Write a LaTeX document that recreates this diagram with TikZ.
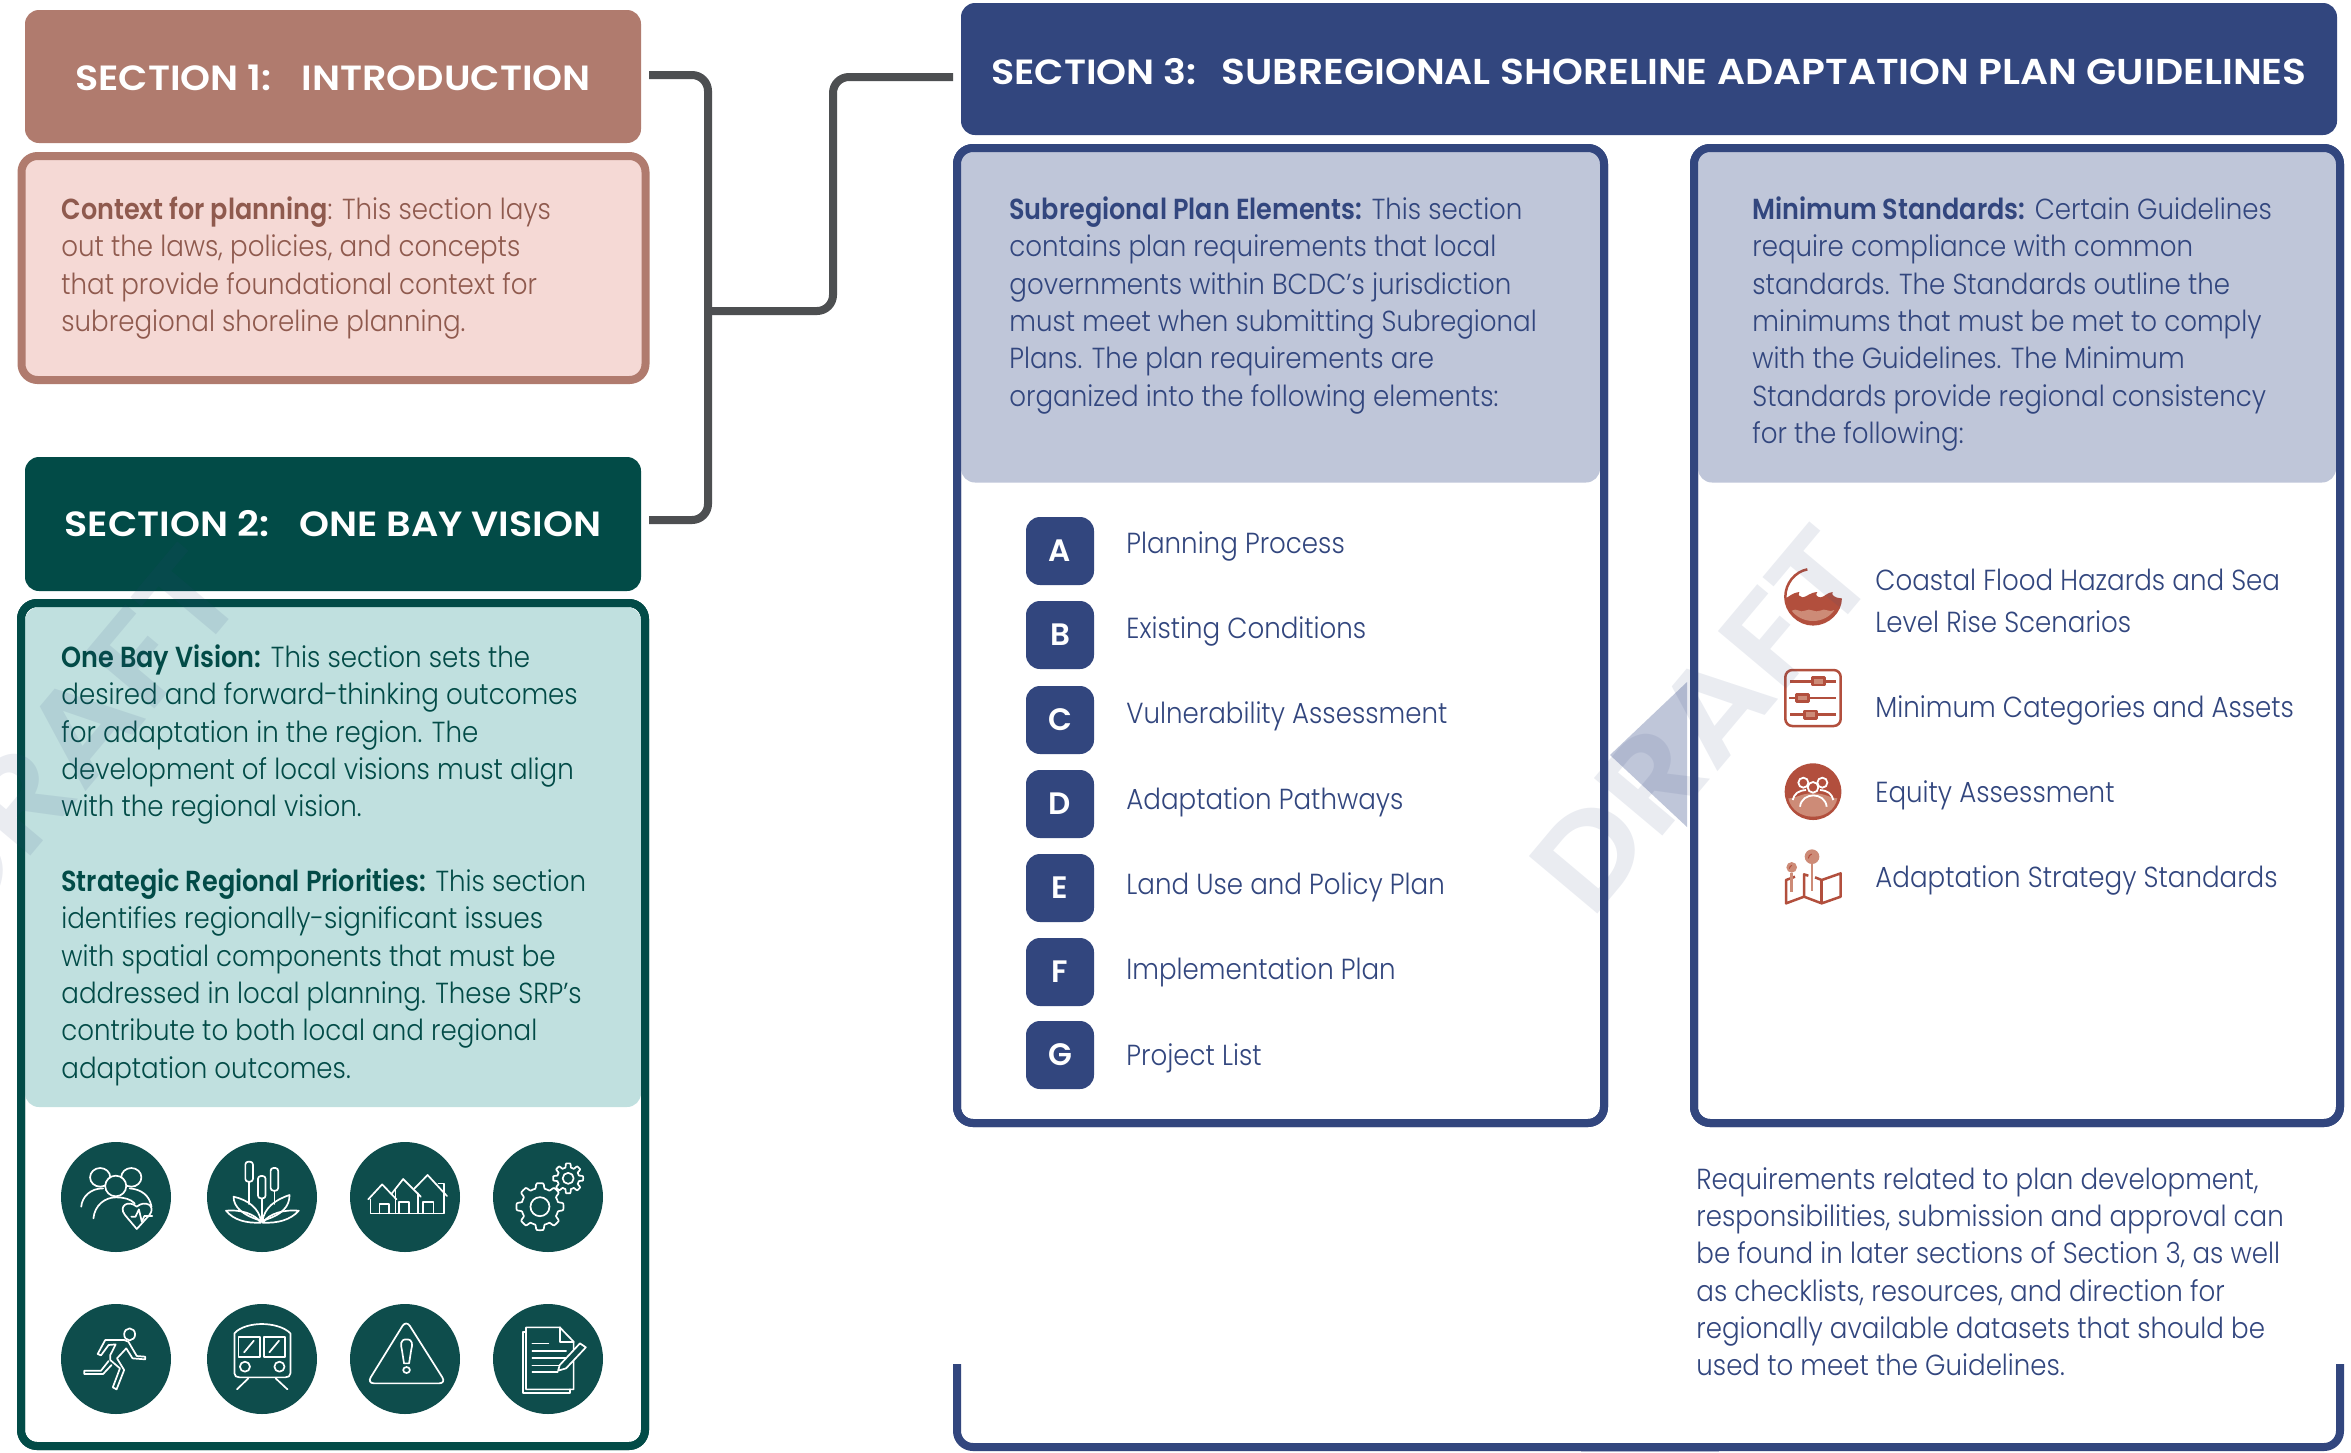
\documentclass[tikz,border=0pt]{standalone}
\usepackage{fontspec}
\setmainfont{Poppins Light}[BoldFont={Poppins SemiBold},UprightFeatures={FakeStretch=0.90},BoldFeatures={FakeStretch=0.88}]
\newfontfamily\headfont{Poppins SemiBold}[FakeStretch=1.09]
\newfontfamily\wmfont{Poppins SemiBold}[FakeStretch=1.11]
\newfontfamily\letterfont{Poppins SemiBold}
\definecolor{brownhd}{HTML}{B07B6E}
\definecolor{brownfill}{HTML}{F5D9D5}
\definecolor{browntx}{HTML}{8F5A4E}
\definecolor{tealhd}{HTML}{024B47}
\definecolor{tealfill}{HTML}{C0E0DF}
\definecolor{tealic}{HTML}{0E4D4C}
\definecolor{navy}{HTML}{32467E}
\definecolor{navyfill}{HTML}{BFC6D9}
\definecolor{conn}{HTML}{4D4F51}
\definecolor{redic}{HTML}{B24F3D}
\definecolor{redlt}{HTML}{CD8B77}
\tikzset{
 sechead/.style={rounded corners=7pt,inner sep=0pt,text=white,font=\fontsize{17.5}{20}\headfont},
 panelbox/.style={rounded corners=8pt,line width=4pt,fill=white,inner sep=0pt},
 headfill/.style={rounded corners=7pt,inner sep=0pt,minimum width=0pt},
 bodytx/.style={anchor=north west,inner sep=0pt,align=left,font=\fontsize{14.5}{18.65}\selectfont},
 itemtx/.style={anchor=base west,inner sep=0pt,text=navy,font=\fontsize{14.5}{18.65}\selectfont},
 letterbox/.style={rounded corners=7pt,fill=navy,text=white,inner sep=0pt,minimum size=34pt,font=\fontsize{15.5}{17}\letterfont},
 iconbg/.style={circle,fill=tealic,inner sep=0pt,minimum size=55pt},
 iconline/.style={draw=white,line width=.85pt,line join=round,line cap=round},
 iconfill/.style={iconline,fill=tealic},
 redline/.style={draw=redic,line width=1.25pt,line join=round},
 wmark/.style={text=navy,text opacity=.1,inner sep=0pt,font=\fontsize{64}{70}\wmfont},
 connline/.style={draw=conn,line width=4pt,rounded corners=8pt},
}
\newcommand{\gearshape}[5]{%
 \draw[iconline] plot[domain=0:360,samples=145,variable=\t]
  ({#1+2.376*(#3+#4*max(-1,min(1,3*cos(8*\t))))*cos(\t)},{#2+3*(#3+#4*max(-1,min(1,3*cos(8*\t))))*sin(\t)}) -- cycle;
 \draw[iconline] (#1,#2) circle[x radius=2.376*#5,y radius=3*#5];}
\begin{document}
\begin{tikzpicture}[x=.5pt,y=-.5pt]
\useasboundingbox (0,0) rectangle (2351,1452);
\fill[white] (0,0) rectangle (2351,1452);
% triangle fragment between panels
\fill[navyfill] (1610,755) -- (1687,682) -- (1687,827) -- cycle;
\fill[navyfill] (1581,1449) rectangle (1719,1452);
% section 1
\node[sechead,fill=brownhd,minimum width=308pt,minimum height=66.5pt] (s1) at (333,76.5) {\raisebox{-6.75pt}[0pt][0pt]{SECTION 1:\hspace*{15pt}INTRODUCTION}};
\node[panelbox,draw=brownhd,fill=brownfill,minimum width=312pt,minimum height=112pt] (p1) at (333.5,268) {};
\node[bodytx,text=browntx] (t1) at (61,196.5) {\textbf{Context for planning}: This section lays\\out the laws, policies, and concepts\\that provide foundational context for\\subregional shoreline planning.};
% section 2
\node[sechead,fill=tealhd,minimum width=308pt,minimum height=67pt] (s2) at (333,524) {\raisebox{-6pt}[0pt][0pt]{SECTION 2:\hspace*{15pt}ONE BAY VISION}};
\node[panelbox,draw=tealhd,minimum width=312pt,minimum height=421.5pt] (p2) at (333,1024.5) {};
\node[headfill,fill=tealfill,minimum width=308pt,minimum height=250pt] (h2) at (333,857) {};
\node[panelbox,draw=tealhd,fill=none,minimum width=312pt,minimum height=421.5pt] (p2a) at (333,1024.5) {};
\node[bodytx,text=tealhd] (t2) at (61,644.5) {\textbf{One Bay Vision:} This section sets the\\desired and forward-thinking outcomes\\for adaptation in the region. The\\development of local visions must align\\with the regional vision.};
\node[bodytx,text=tealhd] (t3) at (61,868.5) {\textbf{Strategic Regional Priorities:} This section\\identifies regionally-significant issues\\with spatial components that must be\\addressed in local planning. These SRP's\\contribute to both local and regional\\adaptation outcomes.};
% icon discs
\node[iconbg] (i1) at (116,1197) {};
\node[iconbg] (i2) at (262,1197) {};
\node[iconbg] (i3) at (405,1197) {};
\node[iconbg] (i4) at (548,1197) {};
\node[iconbg] (i5) at (116,1359) {};
\node[iconbg] (i6) at (262,1359) {};
\node[iconbg] (i7) at (405,1359) {};
\node[iconbg] (i8) at (548,1359) {};
% icon glyphs, drawn in the zoom grid
\begin{scope}[x=.21044pt,y=-.16667pt,yshift=-550pt]
 % people
 \draw[iconfill] (238,232) circle[x radius=24,y radius=28];
 \draw[iconfill] (312,232) circle[x radius=24,y radius=28];
 \draw[iconfill] (275,258) circle[x radius=25,y radius=31];
 \draw[iconline] (193,320) .. controls (195,290) and (215,265) .. (245,265);
 \draw[iconline] (308,265) .. controls (335,268) and (355,285) .. (360,320);
 \draw[iconline] (222,355) .. controls (225,315) and (250,292) .. (275,292) .. controls (295,292) and (310,297) .. (320,310);
 \draw[iconfill] (325,387) -- (297,345) .. controls (280,318) and (305,298) .. (325,320) .. controls (345,298) and (372,318) .. (355,345) -- cycle;
 \draw[iconline] (312,350) -- (322,350) -- (330,328) -- (337,365) -- (343,348) -- (362,348);
 % cattails
 \draw[iconline] (592,245) -- (592,312);
 \draw[iconline] (622,295) -- (622,365);
 \draw[iconline] (652,272) -- (652,312);
 \draw[iconline,rounded corners=1.4pt] (583,185) rectangle (601,245);
 \draw[iconline,rounded corners=1.4pt] (613,228) rectangle (631,295);
 \draw[iconline,rounded corners=1.4pt] (643,204) rectangle (661,272);
 \draw[iconline] (620,368) .. controls (585,370) and (555,360) .. (537,332) .. controls (570,328) and (605,340) .. (620,368);
 \draw[iconline] (624,368) .. controls (660,370) and (690,360) .. (710,332) .. controls (675,328) and (640,340) .. (624,368);
 \draw[iconline] (620,362) .. controls (575,345) and (555,320) .. (555,290) .. controls (590,300) and (615,325) .. (620,362);
 \draw[iconline] (624,362) .. controls (670,345) and (688,320) .. (688,285) .. controls (652,300) and (628,325) .. (624,362);
 % houses
 \draw[iconline] (875,298) -- (908,253) -- (942,298);
 \draw[iconline] (930,282) -- (958,237) -- (1000,290);
 \draw[iconline] (985,265) -- (1016,225) -- (1062,288);
 \draw[iconline] (1042,250) -- (1055,250) -- (1055,340) -- (880,340) -- (880,298);
 \draw[iconline] (902,340) -- (902,312) -- (925,312) -- (925,340);
 \draw[iconline] (940,340) -- (940,270);
 \draw[iconline] (948,340) -- (948,305) -- (972,305) -- (972,340);
 \draw[iconline] (993,340) -- (993,280);
 \draw[iconline] (1005,340) -- (1005,305) -- (1030,305) -- (1030,340);
 % gears
 \gearshape{1283}{320}{21}{2.5}{9.5}
 \gearshape{1350}{235}{13}{2}{5.5}
 % runner
 \draw[iconline] (308,703) circle[x radius=13,y radius=18];
 \draw[iconline] (295,720) -- (250,720) -- (232,762) -- (240,766) -- (258,735) -- (275,733) -- (262,765) -- (262,780) -- (285,805) -- (268,862) -- (277,868) -- (295,810) -- (278,775) -- (300,745) -- (315,775) -- (345,778) -- (345,770) -- (325,768) -- (305,725) -- cycle;
 \draw[iconline] (258,783) -- (240,812) -- (200,812) -- (200,822) -- (245,822) -- (265,795);
 % train
 \draw[iconline] (557,820) -- (557,700) .. controls (570,680) and (600,672) .. (622,672) .. controls (645,672) and (675,680) .. (690,700) -- (690,820) .. controls (690,828) and (685,832) .. (678,832) -- (569,832) .. controls (562,832) and (557,828) .. (557,820) -- cycle;
 \draw[iconline] (567,710) rectangle (617,770);
 \draw[iconline] (627,710) rectangle (677,770);
 \draw[iconline] (580,757) -- (603,722);
 \draw[iconline] (640,757) -- (663,722);
 \draw[iconline] (582,800) circle[x radius=12,y radius=15];
 \draw[iconline] (664,800) circle[x radius=12,y radius=15];
 \draw[iconline] (590,835) -- (563,868);
 \draw[iconline] (655,835) -- (683,868);
 % warning
 \draw[iconline,rounded corners=3.5pt] (965,660) -- (872,850) -- (1060,850) -- cycle;
 \draw[iconline] (966,718) .. controls (950,718) and (952,735) .. (955,750) -- (960,790) -- (972,790) -- (977,750) .. controls (980,735) and (982,718) .. (966,718) -- cycle;
 \draw[iconline] (966,810) circle[x radius=8,y radius=9];
 % document
 \draw[iconline] (1250,682) -- (1330,682) -- (1363,725) -- (1363,868) -- (1250,868) -- cycle;
 \draw[iconline] (1250,695) -- (1242,695) -- (1242,878) -- (1355,878) -- (1355,868);
 \draw[iconline] (1330,682) -- (1330,725) -- (1363,725);
 \draw[iconline] (1265,730) -- (1303,730);
 \draw[iconline] (1265,752) -- (1345,752);
 \draw[iconline] (1265,774) -- (1345,774);
 \draw[iconline] (1265,796) -- (1335,796);
 \draw[iconline] (1265,815) -- (1325,815);
 \draw[iconfill] (1330,795) -- (1378,730) -- (1392,742) -- (1345,805) -- (1326,812) -- cycle;
\end{scope}
% section 3
\node[sechead,fill=navy,minimum width=688pt,minimum height=66pt] (s3) at (1649,69) {\raisebox{-7.8pt}[0pt][0pt]{SECTION 3:\hspace*{12.5pt}\fontsize{18}{20}\selectfont SUBREGIONAL SHORELINE ADAPTATION PLAN GUIDELINES}};
% left navy panel
\node[panelbox,draw=navy,minimum width=323.5pt,minimum height=487.5pt] (p3) at (1280.5,635.5) {};
\node[headfill,fill=navyfill,minimum width=319.5pt,minimum height=167.5pt] (h3) at (1280.5,315) {};
\node[panelbox,draw=navy,fill=none,minimum width=323.5pt,minimum height=487.5pt] (p3a) at (1280.5,635.5) {};
\node[bodytx,text=navy] (t4) at (1009,196.5) {\textbf{Subregional Plan Elements:} This section\\contains plan requirements that local\\governments within BCDC's jurisdiction\\must meet when submitting Subregional\\Plans. The plan requirements are\\organized into the following elements:};
% right navy panel
\node[panelbox,draw=navy,minimum width=323pt,minimum height=487.5pt] (p4) at (2017,635.5) {};
\node[headfill,fill=navyfill,minimum width=319pt,minimum height=167.5pt] (h4) at (2017,315) {};
\node[panelbox,draw=navy,fill=none,minimum width=323pt,minimum height=487.5pt] (p4a) at (2017,635.5) {};
\node[bodytx,text=navy] (t5) at (1752,196.5) {\textbf{Minimum Standards:} Certain Guidelines\\require compliance with common\\standards. The Standards outline the\\minimums that must be met to comply\\with the Guidelines. The Minimum\\Standards provide regional consistency\\for the following:};
% lettered list
\node[letterbox] (la) at (1060,551) {A};
\node[letterbox] (lb) at (1060,635) {B};
\node[letterbox] (lc) at (1060,720) {C};
\node[letterbox] (ld) at (1060,804) {D};
\node[letterbox] (le) at (1060,888) {E};
\node[letterbox] (lf) at (1060,972) {F};
\node[letterbox] (lg) at (1060,1055) {G};
\node[itemtx] (ta) at (1126,553) {Planning Process};
\node[itemtx] (tb) at (1126,638) {Existing Conditions};
\node[itemtx] (tc) at (1126,723) {Vulnerability Assessment};
\node[itemtx] (td) at (1126,809) {Adaptation Pathways};
\node[itemtx] (te) at (1126,894) {Land Use and Policy Plan};
\node[itemtx] (tf) at (1126,979) {Implementation Plan};
\node[itemtx] (tg) at (1126,1065) {Project List};
% minimum standards list
\node[itemtx,align=left,anchor=north west,font=\fontsize{14.5}{21}\selectfont] (tm1) at (1875,568.5) {Coastal Flood Hazards and Sea\\Level Rise Scenarios};
\node[itemtx] (tm2) at (1875,717) {Minimum Categories and Assets};
\node[itemtx] (tm3) at (1875,802) {Equity Assessment};
\node[itemtx] (tm4) at (1875,887) {Adaptation Strategy Standards};
\begin{scope}[x=.16667pt,y=-.16667pt,xshift=700pt,yshift=-240pt]
 % wave
 \draw[redline] (1222,268) .. controls (1185,275) and (1156,310) .. (1156,350) .. controls (1156,395) and (1195,433) .. (1239,433) .. controls (1285,433) and (1322,395) .. (1322,355);
 \fill[redic] (1157,355) .. controls (1170,350) and (1172,340) .. (1198,336) .. controls (1192,345) and (1200,352) .. (1208,352) .. controls (1222,350) and (1228,338) .. (1252,336) .. controls (1244,345) and (1252,352) .. (1262,352) .. controls (1275,350) and (1280,338) .. (1298,336) .. controls (1292,345) and (1305,354) .. (1323,355) .. controls (1322,395) and (1285,433) .. (1239,433) .. controls (1195,433) and (1157,395) .. (1157,355) -- cycle;
 \fill[redlt] (1175,392) .. controls (1190,382) and (1200,400) .. (1215,392) .. controls (1230,382) and (1245,400) .. (1260,392) .. controls (1275,382) and (1290,400) .. (1303,390) .. controls (1290,410) and (1265,423) .. (1239,423) .. controls (1212,423) and (1188,410) .. (1175,392) -- cycle;
 % sliders
 \draw[redline,rounded corners=3.5pt] (1156,570) rectangle (1322,738);
 \draw[redline] (1170,604) -- (1308,604);
 \draw[redline] (1168,654) -- (1308,654);
 \draw[redline] (1170,704) -- (1308,704);
 \draw[redline,fill=redlt] (1237,593) rectangle (1273,615);
 \draw[redline,fill=redlt] (1190,643) rectangle (1225,665);
 \draw[redline,fill=redlt] (1213,693) rectangle (1249,715);
 % equity
 \fill[redic] (1239,935) circle[radius=85];
 \fill[redlt] (1165,955) .. controls (1190,955) and (1200,940) .. (1239,940) .. controls (1280,940) and (1290,955) .. (1312,955) .. controls (1305,990) and (1275,1010) .. (1239,1010) .. controls (1205,1010) and (1172,990) .. (1165,955) -- cycle;
 \draw[white,line width=.9pt,fill=redic] (1210,908) circle[radius=15];
 \draw[white,line width=.9pt,fill=redic] (1267,908) circle[radius=15];
 \draw[white,line width=.9pt,fill=redic] (1239,922) circle[radius=16];
 \draw[white,line width=.9pt] (1178,960) .. controls (1183,940) and (1195,932) .. (1218,930);
 \draw[white,line width=.9pt] (1300,960) .. controls (1295,940) and (1283,932) .. (1260,930);
 \draw[white,line width=.9pt] (1200,980) .. controls (1205,935) and (1275,935) .. (1280,980);
 % map
 \draw[redline] (1185,1190) -- (1158,1200) -- (1158,1270) -- (1212,1250) -- (1265,1270) -- (1322,1250) -- (1322,1180) -- (1265,1200) -- (1245,1192);
 \draw[redline] (1212,1250) -- (1212,1183) -- (1225,1187);
 \draw[redline] (1265,1270) -- (1265,1200);
 \draw[draw=redlt,line width=1.4pt] (1236,1150) -- (1236,1232);
 \draw[draw=redlt,line width=1.4pt] (1175,1178) -- (1175,1235);
 \fill[redlt] (1236,1130) circle[radius=22];
 \fill[redlt] (1175,1162) circle[radius=16];
 \draw[redic,line width=.5pt] (1225,1135) .. controls (1226,1128) and (1229,1124) .. (1235,1122);
 \draw[redic,line width=.5pt] (1168,1166) .. controls (1169,1161) and (1171,1158) .. (1175,1156);
\end{scope}
% note and bottom bracket
\node[bodytx,text=navy] (t6) at (1696,1167) {Requirements related to plan development,\\responsibilities, submission and approval can\\be found in later sections of Section 3, as well\\as checklists, resources, and direction for\\regionally available datasets that should be\\used to meet the Guidelines.};
\draw[navy,line width=4pt,rounded corners=8pt] (957,1364) -- (957,1447) -- (2340,1447) -- (2340,1364);
% connectors
\coordinate (c1) at (649,75);
\coordinate (c2) at (649,520);
\coordinate (jn) at (708,311);
\coordinate (elb) at (833,200);
\coordinate (c3) at (953,77);
\draw[connline] (c1) -| (jn) |- (c2);
\draw[connline] (jn) -| (elb) |- (c3);
% watermarks
\node[wmark,rotate=50] (wm1) at (70,740) {DRAFT};
\node[wmark,rotate=50] (wm2) at (1702,720) {DRAFT};
\end{tikzpicture}
\end{document}
